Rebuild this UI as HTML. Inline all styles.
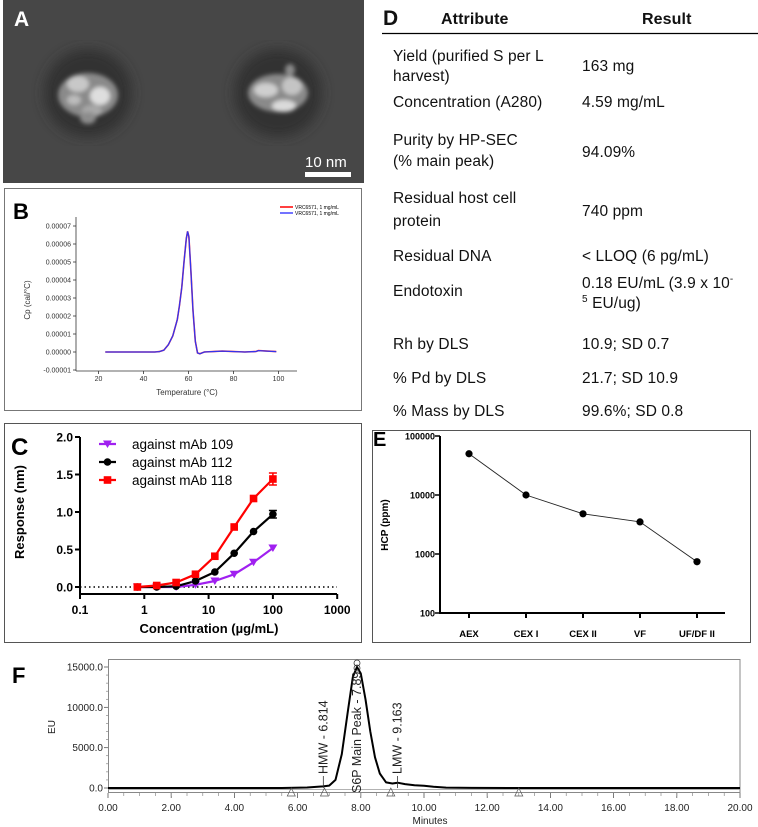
<!DOCTYPE html>
<html><head><meta charset="utf-8">
<style>
html,body{margin:0;padding:0;background:#fff;}
svg{display:block;font-family:"Liberation Sans",Arial,sans-serif;}
</style></head>
<body>
<svg id="fig" width="758" height="827" viewBox="0 0 758 827" xmlns="http://www.w3.org/2000/svg">
<defs>
<filter id="blur2"><feGaussianBlur stdDeviation="2.2"/></filter>
<filter id="blur6"><feGaussianBlur stdDeviation="6"/></filter>
<clipPath id="fClip"><rect x="108" y="660" width="632" height="140"/></clipPath>
</defs>

<!-- Panel A -->
<g>
<rect x="3" y="0" width="361" height="183" fill="#474747"/>
<g filter="url(#blur6)">
<circle cx="88" cy="93" r="44" fill="#323232"/>
<circle cx="278" cy="93" r="44" fill="#323232"/>
</g>
<g filter="url(#blur2)">
<ellipse cx="88" cy="95" rx="30" ry="22" fill="#8a8a8a"/>
<ellipse cx="78" cy="84" rx="11" ry="8" fill="#c8c8c8"/>
<ellipse cx="100" cy="96" rx="10" ry="9" fill="#dedede"/>
<ellipse cx="92" cy="111" rx="10" ry="6" fill="#a8a8a8"/>
<ellipse cx="74" cy="100" rx="7" ry="5" fill="#bcbcbc"/>
<ellipse cx="88" cy="118" rx="8" ry="6" fill="#8c8c8c"/>
<ellipse cx="278" cy="93" rx="30" ry="19" fill="#8a8a8a"/>
<ellipse cx="266" cy="90" rx="12" ry="7" fill="#cfcfcf"/>
<ellipse cx="292" cy="86" rx="10" ry="9" fill="#c4c4c4"/>
<ellipse cx="284" cy="106" rx="12" ry="6" fill="#dadada"/>
<ellipse cx="290" cy="70" rx="5" ry="6" fill="#8a8a8a"/>
</g>
<text x="14" y="26" font-size="21" font-weight="bold" fill="#fff">A</text>
<text x="305" y="167" font-size="15" fill="#fff">10 nm</text>
<rect x="305" y="172" width="46" height="5" fill="#fff"/>
</g>

<!-- Panel B -->
<g>
<rect x="4.5" y="188.5" width="357" height="222" fill="#fff" stroke="#777" stroke-width="1"/>
<text x="13" y="219" font-size="22" font-weight="bold">B</text>
<g id="bAxes"></g>
<line x1="280" y1="207" x2="293" y2="207" stroke="#f00" stroke-width="1.5"/>
<line x1="280" y1="213" x2="293" y2="213" stroke="#44f" stroke-width="1.5"/>
<text x="295" y="209" font-size="5">VRC6571, 1 mg/mL</text>
<text x="295" y="215" font-size="5">VRC6571, 1 mg/mL</text>
<text transform="translate(30,300) rotate(-90)" text-anchor="middle" font-size="8" fill="#333">Cp (cal/°C)</text>
<text x="187" y="395" text-anchor="middle" font-size="8" fill="#333">Temperature (°C)</text>
</g>

<!-- Panel C -->
<g>
<rect x="4.5" y="423.5" width="357" height="219" fill="#fff" stroke="#555" stroke-width="1"/>
<text x="11" y="455" font-size="24" font-weight="bold">C</text>
<g id="cAxes"></g>
<text transform="translate(24,512) rotate(-90)" text-anchor="middle" font-size="13" font-weight="bold">Response (nm)</text>
<text x="209" y="633" text-anchor="middle" font-size="13" font-weight="bold">Concentration (µg/mL)</text>
</g>

<!-- Panel D table -->
<g font-size="15.5" fill="#111" letter-spacing="0.1">
<text x="383" y="25" font-size="21" font-weight="bold">D</text>
<text x="441" y="24" font-size="16" font-weight="bold">Attribute</text>
<text x="642" y="24" font-size="16" font-weight="bold">Result</text>
<line x1="382" y1="33.5" x2="758" y2="33.5" stroke="#000" stroke-width="1.3"/>
<text x="393" y="61">Yield (purified S per L</text>
<text x="393" y="81">harvest)</text>
<text x="582" y="71">163 mg</text>
<text x="393" y="107">Concentration (A280)</text>
<text x="582" y="107">4.59 mg/mL</text>
<text x="393" y="145">Purity by HP-SEC</text>
<text x="393" y="166">(% main peak)</text>
<text x="582" y="157">94.09%</text>
<text x="393" y="203">Residual host cell</text>
<text x="393" y="226">protein</text>
<text x="582" y="216">740 ppm</text>
<text x="393" y="261">Residual DNA</text>
<text x="582" y="261">&lt; LLOQ (6 pg/mL)</text>
<text x="393" y="296">Endotoxin</text>
<text x="582" y="288">0.18 EU/mL (3.9 x 10<tspan font-size="10" dy="-6">-</tspan></text>
<text x="582" y="308"><tspan font-size="10" dy="-6">5</tspan><tspan dy="6"> EU/ug)</tspan></text>
<text x="393" y="349">Rh by DLS</text>
<text x="582" y="349">10.9; SD 0.7</text>
<text x="393" y="383">% Pd by DLS</text>
<text x="582" y="383">21.7; SD 10.9</text>
<text x="393" y="416">% Mass by DLS</text>
<text x="582" y="416">99.6%; SD 0.8</text>
</g>

<!-- Panel E -->
<g>
<rect x="372.5" y="430.5" width="378" height="212" fill="#fff" stroke="#555" stroke-width="1"/>
<text x="373" y="446" font-size="20" font-weight="bold">E</text>
<g id="eAxes"></g>
<text transform="translate(388,525) rotate(-90)" text-anchor="middle" font-size="10" font-weight="bold">HCP (ppm)</text>
</g>

<!-- Panel F -->
<g>
<text x="12" y="683" font-size="22" font-weight="bold">F</text>
<rect x="108.5" y="659.5" width="631.5" height="133" fill="#fff" stroke="#888" stroke-width="1"/>
<g id="fAxes"></g>
<text transform="translate(55,727) rotate(-90)" text-anchor="middle" font-size="10" fill="#222">EU</text>
<text x="430" y="824" text-anchor="middle" font-size="10" fill="#222">Minutes</text>
</g>
</svg>

<script>
// ---- Panel B data (DSC) ----
const dscTemps = [23, 40, 45, 47, 49, 51, 53, 55, 56, 57, 58, 59, 59.6, 60.2, 61, 62, 63, 64, 65, 67, 75, 85, 90, 91, 99];
const dscCp = [0, 0, 0, 0.02, 0.1, 0.4, 0.9, 1.8, 2.6, 3.6, 5.0, 6.3, 6.7, 6.4, 4.6, 2.3, 0.6, -0.05, -0.1, 0, 0.05, 0, 0.03, 0.08, 0.02];
const dscYTicks = [-1, 0, 1, 2, 3, 4, 5, 6, 7];
const dscXTicks = [20, 40, 60, 80, 100];

// ---- Panel C data (binding) ----
const concs = [0.78, 1.56, 3.125, 6.25, 12.5, 25, 50, 100];
const resp109 = [0, 0, 0, 0.03, 0.08, 0.17, 0.33, 0.52];
const resp112 = [0, 0, 0.01, 0.08, 0.20, 0.45, 0.74, 0.97];
const resp118 = [0, 0.02, 0.06, 0.17, 0.41, 0.80, 1.18, 1.44];
const err112 = [0, 0, 0, 0, 0, 0, 0, 0.05];
const err118 = [0, 0, 0, 0, 0, 0, 0, 0.08];
const cYTicks = ["0.0", "0.5", "1.0", "1.5", "2.0"];
const cXTicks = ["0.1", "1", "10", "100", "1000"];
const cLegend = ["against mAb 109", "against mAb 112", "against mAb 118"];

// ---- Panel E data (HCP) ----
const steps = ["AEX", "CEX I", "CEX II", "VF", "UF/DF II"];
const hcp = [50000, 10000, 4800, 3500, 740];
const eYTicks = ["100", "1000", "10000", "100000"];

// ---- Panel F data (chromatogram) ----
const fTimes = [0, 5.5, 6.3, 6.8, 7.0, 7.2, 7.4, 7.6, 7.75, 7.88, 8.0, 8.15, 8.3, 8.45, 8.6, 8.8, 9.0, 9.163, 9.4, 9.7, 10.0, 10.3, 10.7, 11.5, 13, 20];
const fEU = [0, 0, 60, 200, 300, 1000, 4200, 9800, 13800, 15000, 14200, 11000, 7000, 3800, 1800, 700, 560, 660, 480, 330, 280, 150, 50, 10, 0, 0];
const fYTicks = ["0.0", "5000.0", "10000.0", "15000.0"];
const fXTicks = ["0.00","2.00","4.00","6.00","8.00","10.00","12.00","14.00","16.00","18.00","20.00"];
const fTriangles = [5.8, 6.85, 8.95, 13.0];

const NS = "http://www.w3.org/2000/svg";
function mk(parent, tag, attrs, text) {
  const el = document.createElementNS(NS, tag);
  for (const k in attrs) el.setAttribute(k, attrs[k]);
  if (text !== undefined) el.textContent = text;
  parent.appendChild(el);
  return el;
}

// ===== Panel B =====
(function(){
  const g = document.getElementById('bAxes');
  const xB = t => 76 + (t - 10) * 2.25;
  const yB = v => 352 - v * 18;
  let el = mk(g, 'line', {x1:76, y1:yB(7.5), x2:76, y2:371, stroke:'#333', 'stroke-width':0.8});
  
  
  el = mk(g, 'line', {x1:76, y1:371, x2:297, y2:371, stroke:'#333', 'stroke-width':0.8});
  
  
  dscYTicks.forEach(v => {
    mk(g, 'line', {x1:73, y1:yB(v), x2:76, y2:yB(v), stroke:'#333', 'stroke-width':0.8});
    const t = mk(g, 'text', {x:71, y:yB(v)+2.5, 'text-anchor':'end', 'font-size':7, fill:'#333'}, (v<0?'-':'') + '0.0000' + Math.abs(v));
    
    
  });
  dscXTicks.forEach(v => {
    mk(g, 'line', {x1:xB(v), y1:371, x2:xB(v), y2:374, stroke:'#333', 'stroke-width':0.8});
    const t = mk(g, 'text', {x:xB(v), y:381, 'text-anchor':'middle', 'font-size':7, fill:'#333'}, String(v));
    
    
  });
  const pts = dscTemps.map((t,i) => xB(t).toFixed(1) + ',' + yB(dscCp[i]).toFixed(1)).join(' ');
  el = mk(g, 'polyline', {points:pts, fill:'none', stroke:'#f33', 'stroke-width':1.6});
  
  
  el = mk(g, 'polyline', {points:pts, fill:'none', stroke:'#3333ee', 'stroke-width':1.3});
  
  
})();

// ===== Panel C =====
(function(){
  const g = document.getElementById('cAxes');
  const xC = c => 80 + (Math.log10(c) + 1) * 64.3;
  const yC = v => 587 - v * 75;
  let el = mk(g, 'line', {x1:80, y1:yC(2), x2:80, y2:594, stroke:'#000', 'stroke-width':2});
  
  
  el = mk(g, 'line', {x1:79, y1:594, x2:337, y2:594, stroke:'#000', 'stroke-width':2});
  
  
  cYTicks.forEach(s => {
    const v = parseFloat(s);
    mk(g, 'line', {x1:75, y1:yC(v), x2:80, y2:yC(v), stroke:'#000', 'stroke-width':2});
    const t = mk(g, 'text', {x:73, y:yC(v)+4.5, 'text-anchor':'end', 'font-size':12, 'font-weight':'bold'}, s);
    
    
  });
  cXTicks.forEach(s => {
    const x = xC(parseFloat(s));
    mk(g, 'line', {x1:x, y1:594, x2:x, y2:599, stroke:'#000', 'stroke-width':2});
    const t = mk(g, 'text', {x:x, y:614, 'text-anchor':'middle', 'font-size':12, 'font-weight':'bold'}, s);
    
    
  });
  el = mk(g, 'line', {x1:80, y1:yC(0), x2:337, y2:yC(0), stroke:'#000', 'stroke-width':1.5, 'stroke-dasharray':'1.5,3'});
  
  

  function curve(vals, color, name) {
    const pts = concs.map((c,i) => xC(c).toFixed(1) + ',' + yC(vals[i]).toFixed(1)).join(' ');
    const p = mk(g, 'polyline', {points:pts, fill:'none', stroke:color, 'stroke-width':2.2, 'stroke-linejoin':'round'});
    
    
  }
  function errs(vals, e, color) {
    concs.forEach((c,i) => {
      if (!e[i]) return;
      const x = xC(c);
      mk(g, 'line', {x1:x, y1:yC(vals[i]+e[i]), x2:x, y2:yC(vals[i]-e[i]), stroke:color, 'stroke-width':1.5});
      mk(g, 'line', {x1:x-4, y1:yC(vals[i]+e[i]), x2:x+4, y2:yC(vals[i]+e[i]), stroke:color, 'stroke-width':1.5});
      mk(g, 'line', {x1:x-4, y1:yC(vals[i]-e[i]), x2:x+4, y2:yC(vals[i]-e[i]), stroke:color, 'stroke-width':1.5});
    });
  }
  function tri(x, y, color) {
    return mk(g, 'polygon', {points:`${x-4.5},${y-3.5} ${x+4.5},${y-3.5} ${x},${y+4}`, fill:color});
  }
  curve(resp109, '#a020f0', 'series-mab109-line');
  curve(resp112, '#000', 'series-mab112-line');
  curve(resp118, '#f00', 'series-mab118-line');
  errs(resp112, err112, '#000');
  errs(resp118, err118, '#f00');
  concs.forEach((c,i) => {
    const x = xC(c);
    let m = tri(x, yC(resp109[i]), '#a020f0');
    
    
    m = mk(g, 'circle', {cx:x, cy:yC(resp112[i]), r:3.8, fill:'#000'});
    
    
    m = mk(g, 'rect', {x:x-3.8, y:yC(resp118[i])-3.8, width:7.6, height:7.6, fill:'#f00'});
    
    
  });
  const colors = ['#a020f0', '#000', '#f00'];
  cLegend.forEach((s,i) => {
    const y = 444 + i*18;
    mk(g, 'line', {x1:99, y1:y, x2:116, y2:y, stroke:colors[i], 'stroke-width':2.2});
    if (i===0) tri(107.5, y, colors[0]);
    if (i===1) mk(g, 'circle', {cx:107.5, cy:y, r:3.8, fill:'#000'});
    if (i===2) mk(g, 'rect', {x:103.7, y:y-3.8, width:7.6, height:7.6, fill:'#f00'});
    const t = mk(g, 'text', {x:132, y:y+5, 'font-size':13.5}, s);
    
    
  });
})();

// ===== Panel E =====
(function(){
  const g = document.getElementById('eAxes');
  const xE = i => 469 + i * 57;
  const yE = v => 613 - (Math.log10(v) - 2) * 59;
  let el = mk(g, 'line', {x1:440, y1:yE(100000), x2:440, y2:613, stroke:'#000', 'stroke-width':2});
  
  
  el = mk(g, 'line', {x1:439, y1:613, x2:725, y2:613, stroke:'#000', 'stroke-width':2});
  
  
  eYTicks.forEach(s => {
    const y = yE(parseFloat(s));
    mk(g, 'line', {x1:435, y1:y, x2:440, y2:y, stroke:'#000', 'stroke-width':1.5});
    const t = mk(g, 'text', {x:435, y:y+3.5, 'text-anchor':'end', 'font-size':9, 'font-weight':'bold'}, s);
    
    
  });
  steps.forEach((s,i) => {
    mk(g, 'line', {x1:xE(i), y1:613, x2:xE(i), y2:618, stroke:'#000', 'stroke-width':2});
    const t = mk(g, 'text', {x:xE(i), y:637, 'text-anchor':'middle', 'font-size':9.5, 'font-weight':'bold'}, s);
    
    
  });
  const pts = hcp.map((v,i) => xE(i) + ',' + yE(v).toFixed(1)).join(' ');
  el = mk(g, 'polyline', {points:pts, fill:'none', stroke:'#222', 'stroke-width':0.9});
  
  
  hcp.forEach((v,i) => {
    const c = mk(g, 'circle', {cx:xE(i), cy:yE(v), r:3.6, fill:'#000'});
    
    
  });
})();

// ===== Panel F =====
(function(){
  const g = document.getElementById('fAxes');
  const xF = t => 108 + t * 31.6;
  const yF = v => 788 - v * 121 / 15000;
  fYTicks.forEach(s => {
    const y = yF(parseFloat(s));
    mk(g, 'line', {x1:104, y1:y, x2:108, y2:y, stroke:'#555', 'stroke-width':0.8});
    const t = mk(g, 'text', {x:103, y:y+3.5, 'text-anchor':'end', 'font-size':10, fill:'#222'}, s);
    
    
  });
  for (let v = 0; v <= 15500; v += 1000) {
    mk(g, 'line', {x1:106, y1:yF(v), x2:108, y2:yF(v), stroke:'#777', 'stroke-width':0.6});
  }
  fXTicks.forEach(s => {
    const x = xF(parseFloat(s));
    mk(g, 'line', {x1:x, y1:793, x2:x, y2:798, stroke:'#555', 'stroke-width':0.8});
    const t = mk(g, 'text', {x:x, y:811, 'text-anchor':'middle', 'font-size':10, fill:'#222'}, s);
    
    
  });
  for (let m = 0.5; m < 20; m += 0.5) {
    mk(g, 'line', {x1:xF(m), y1:793, x2:xF(m), y2:796, stroke:'#777', 'stroke-width':0.6});
  }
  let el = mk(g, 'line', {x1:108, y1:yF(0)+1.5, x2:740, y2:yF(0)+1.5, stroke:'#999', 'stroke-width':0.8});
  
  
  const pts = fTimes.map((t,i) => xF(t).toFixed(1) + ',' + yF(fEU[i]).toFixed(1)).join(' ');
  el = mk(g, 'polyline', {points:pts, fill:'none', stroke:'#000', 'stroke-width':2, 'stroke-linejoin':'round'});
  
  
  fTriangles.forEach(t => {
    const x = xF(t), y = yF(0) + 3;
    const p = mk(g, 'polygon', {points:`${x},${y-3} ${x-4},${y+5} ${x+4},${y+5}`, fill:'none', stroke:'#555', 'stroke-width':0.7});
    
    
  });
  [[6.814, 'HMW - 6.814', 'hmw-label'], [9.163, 'LMW - 9.163', 'lmw-label']].forEach(a => {
    const x = xF(a[0]);
    mk(g, 'line', {x1:x, y1:yF(0), x2:x, y2:776, stroke:'#333', 'stroke-width':0.8});
    const t = mk(g, 'text', {transform:`translate(${x+4},774) rotate(-90)`, 'font-size':12.5, fill:'#222'}, a[1]);
    
    
  });
  const px = xF(7.88);
  const clipG = mk(g, 'g', {'clip-path':'url(#fClip)'});
  const t = mk(clipG, 'text', {transform:`translate(${px+4},793) rotate(-90)`, 'font-size':12.5, fill:'#222'}, 'S6P Main Peak - 7.89');
  
  
  mk(g, 'circle', {cx:px, cy:663, r:3, fill:'none', stroke:'#333', 'stroke-width':0.8});
  mk(g, 'circle', {cx:px, cy:668, r:3, fill:'none', stroke:'#333', 'stroke-width':0.8});
})();
</script>
</body></html>
